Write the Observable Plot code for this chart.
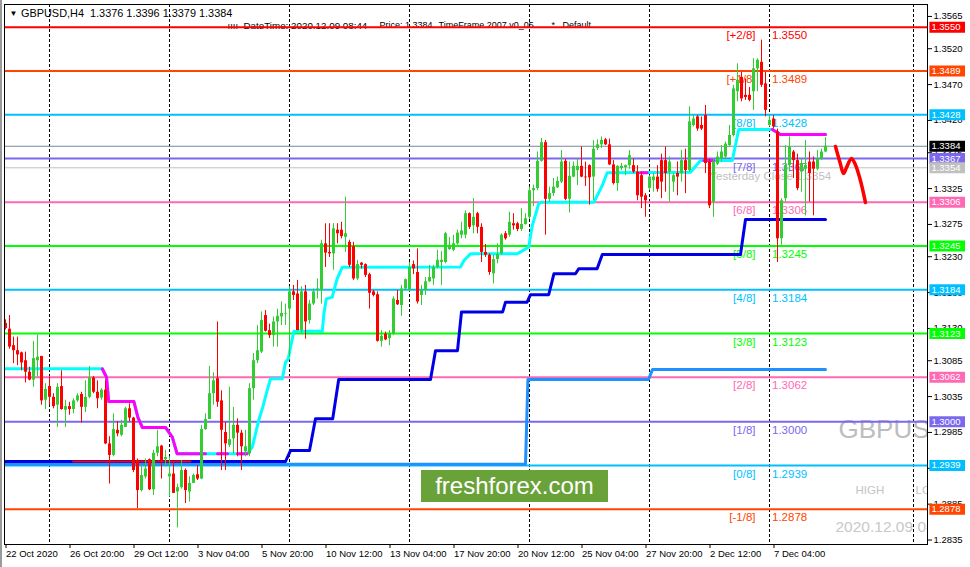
<!DOCTYPE html>
<html><head><meta charset="utf-8">
<script src="https://cdn.jsdelivr.net/npm/d3@7"></script>
<script src="https://cdn.jsdelivr.net/npm/@observablehq/plot@0.6"></script>
<style>
html,body{margin:0;padding:0;background:#fff;width:970px;height:567px;overflow:hidden;}
#wrap{position:relative;width:970px;height:567px;}
#wrap svg{position:absolute;left:0;top:0;}
#wm{position:absolute;left:421px;top:470px;width:187px;height:32px;background:#6aa23a;color:#fff;font:24px "Liberation Sans",Arial,sans-serif;text-align:center;line-height:32px;}
#lb{position:absolute;left:0;top:0;width:2px;height:567px;background:#9a9a9a;}
</style></head><body><div id="wrap"><div id="lb"></div></div>
<script>
// ---- candle data (H4 GBPUSD, bar index 0 = 22 Oct 2020 00:00) ----
const open = [1.3137,1.3129,1.3106,1.3099,1.3096,1.3085,1.3069,1.3058,1.3085,1.3091,1.3030,1.3049,1.3034,1.3023,1.3049,1.3016,1.3021,1.3017,1.3029,1.3038,1.3020,1.3034,1.3061,1.3041,1.3033,1.3044,1.2969,1.2953,1.2988,1.2981,1.2992,1.3018,1.3005,1.2946,1.2904,1.2923,1.2947,1.2905,1.2956,1.2966,1.2947,1.2923,1.2927,1.2902,1.2908,1.2932,1.2902,1.2914,1.2926,1.2920,1.2989,1.3003,1.3039,1.3060,1.3029,1.2985,1.2967,1.2976,1.2995,1.2984,1.2958,1.2955,1.3046,1.3085,1.3097,1.3148,1.3127,1.3120,1.3139,1.3146,1.3150,1.3157,1.3181,1.3178,1.3127,1.3181,1.3141,1.3164,1.3183,1.3183,1.3248,1.3236,1.3234,1.3267,1.3267,1.3257,1.3250,1.3244,1.3199,1.3221,1.3219,1.3205,1.3181,1.3177,1.3112,1.3122,1.3116,1.3122,1.3169,1.3162,1.3185,1.3183,1.3219,1.3208,1.3176,1.3183,1.3195,1.3199,1.3215,1.3222,1.3222,1.3240,1.3239,1.3248,1.3260,1.3260,1.3290,1.3273,1.3290,1.3271,1.3236,1.3232,1.3206,1.3226,1.3234,1.3262,1.3260,1.3276,1.3276,1.3268,1.3275,1.3285,1.3322,1.3325,1.3363,1.3389,1.3310,1.3318,1.3326,1.3334,1.3363,1.3310,1.3341,1.3350,1.3356,1.3341,1.3357,1.3341,1.3381,1.3386,1.3393,1.3386,1.3358,1.3332,1.3353,1.3354,1.3357,1.3357,1.3348,1.3343,1.3315,1.3325,1.3336,1.3341,1.3364,1.3364,1.3348,1.3334,1.3346,1.3346,1.3364,1.3350,1.3413,1.3425,1.3413,1.3427,1.3362,1.3306,1.3359,1.3366,1.3369,1.3385,1.3399,1.3460,1.3480,1.3455,1.3455,1.3460,1.3492,1.3501,1.3471,1.3413,1.3422,1.3404,1.3255,1.3311,1.3357,1.3376,1.3364,1.3348,1.3352,1.3362,1.3362,1.3352,1.3366,1.3376];
const high = [1.3142,1.3148,1.3118,1.3118,1.3097,1.3097,1.3076,1.3112,1.3121,1.3091,1.3053,1.3062,1.3039,1.3053,1.3071,1.3030,1.3027,1.3032,1.3039,1.3041,1.3057,1.3077,1.3063,1.3057,1.3046,1.3057,1.2979,1.3011,1.3000,1.3002,1.3020,1.3025,1.3006,1.2948,1.2939,1.2948,1.2948,1.2960,1.2988,1.2967,1.2960,1.2951,1.2944,1.2913,1.2946,1.2934,1.2923,1.2927,1.2939,1.2995,1.3011,1.3077,1.3068,1.3139,1.3043,1.2999,1.3048,1.3020,1.3004,1.2988,1.2988,1.3053,1.3095,1.3134,1.3153,1.3155,1.3136,1.3146,1.3157,1.3167,1.3164,1.3188,1.3190,1.3197,1.3188,1.3190,1.3169,1.3185,1.3199,1.3253,1.3276,1.3276,1.3276,1.3276,1.3278,1.3313,1.3253,1.3250,1.3225,1.3222,1.3220,1.3207,1.3183,1.3181,1.3127,1.3125,1.3127,1.3174,1.3183,1.3190,1.3199,1.3222,1.3224,1.3241,1.3190,1.3201,1.3218,1.3218,1.3239,1.3237,1.3264,1.3257,1.3260,1.3267,1.3278,1.3294,1.3291,1.3311,1.3292,1.3276,1.3247,1.3234,1.3232,1.3248,1.3262,1.3265,1.3292,1.3290,1.3278,1.3297,1.3290,1.3327,1.3330,1.3376,1.3395,1.3392,1.3327,1.3339,1.3341,1.3378,1.3366,1.3362,1.3362,1.3366,1.3383,1.3362,1.3358,1.3392,1.3393,1.3397,1.3395,1.3394,1.3364,1.3357,1.3360,1.3358,1.3378,1.3366,1.3357,1.3348,1.3318,1.3343,1.3346,1.3357,1.3373,1.3383,1.3369,1.3346,1.3362,1.3378,1.3380,1.3439,1.3427,1.3427,1.3425,1.3441,1.3366,1.3366,1.3376,1.3385,1.3390,1.3413,1.3469,1.3499,1.3487,1.3478,1.3466,1.3506,1.3506,1.3532,1.3487,1.3427,1.3427,1.3408,1.3311,1.3385,1.3397,1.3378,1.3373,1.3366,1.3392,1.3376,1.3369,1.3378,1.3380,1.3396];
const low = [1.3128,1.3101,1.3081,1.3078,1.3071,1.3054,1.3057,1.3048,1.3062,1.3023,1.3017,1.3023,1.3018,1.2992,1.3016,1.2992,1.3009,1.3011,1.3027,1.2998,1.3013,1.3032,1.3039,1.3018,1.3030,1.2968,1.2913,1.2951,1.2979,1.2979,1.2992,1.3000,1.2929,1.2879,1.2902,1.2920,1.2904,1.2897,1.2951,1.2920,1.2937,1.2895,1.2900,1.2852,1.2906,1.2886,1.2888,1.2914,1.2918,1.2919,1.2988,1.3003,1.3023,1.3020,1.2932,1.2932,1.2964,1.2955,1.2951,1.2932,1.2951,1.2951,1.3030,1.3081,1.3095,1.3125,1.3116,1.3104,1.3104,1.3134,1.3134,1.3090,1.3169,1.3127,1.3122,1.3115,1.3136,1.3162,1.3171,1.3164,1.3215,1.3229,1.3211,1.3248,1.3255,1.3236,1.3215,1.3197,1.3197,1.3213,1.3201,1.3157,1.3174,1.3111,1.3104,1.3113,1.3106,1.3120,1.3162,1.3147,1.3183,1.3181,1.3205,1.3164,1.3162,1.3176,1.3194,1.3190,1.3213,1.3190,1.3220,1.3239,1.3237,1.3246,1.3255,1.3255,1.3268,1.3262,1.3262,1.3222,1.3229,1.3204,1.3192,1.3220,1.3232,1.3253,1.3257,1.3267,1.3265,1.3265,1.3274,1.3282,1.3300,1.3322,1.3362,1.3260,1.3306,1.3314,1.3325,1.3332,1.3308,1.3291,1.3340,1.3329,1.3340,1.3328,1.3302,1.3308,1.3378,1.3381,1.3385,1.3357,1.3330,1.3321,1.3350,1.3343,1.3352,1.3346,1.3308,1.3297,1.3285,1.3322,1.3320,1.3320,1.3311,1.3320,1.3306,1.3320,1.3315,1.3334,1.3318,1.3348,1.3411,1.3405,1.3406,1.3346,1.3297,1.3285,1.3357,1.3362,1.3366,1.3383,1.3397,1.3446,1.3446,1.3448,1.3446,1.3434,1.3460,1.3466,1.3425,1.3411,1.3408,1.3222,1.3246,1.3306,1.3348,1.3339,1.3322,1.3320,1.3287,1.3306,1.3287,1.3350,1.3364,1.3375];
const close = [1.3130,1.3104,1.3099,1.3093,1.3082,1.3069,1.3058,1.3088,1.3090,1.3029,1.3045,1.3034,1.3021,1.3048,1.3017,1.3021,1.3017,1.3029,1.3036,1.3020,1.3034,1.3061,1.3041,1.3032,1.3044,1.2969,1.2953,1.2989,1.2983,1.2995,1.3018,1.3005,1.2932,1.2904,1.2925,1.2934,1.2905,1.2956,1.2965,1.2946,1.2950,1.2927,1.2900,1.2908,1.2932,1.2904,1.2914,1.2925,1.2920,1.2989,1.3003,1.3039,1.3057,1.3027,1.2988,1.2969,1.2975,1.2995,1.2984,1.2965,1.2965,1.3046,1.3085,1.3099,1.3141,1.3126,1.3120,1.3139,1.3147,1.3151,1.3151,1.3181,1.3176,1.3127,1.3181,1.3139,1.3164,1.3181,1.3185,1.3248,1.3235,1.3234,1.3269,1.3262,1.3258,1.3262,1.3218,1.3199,1.3219,1.3218,1.3204,1.3179,1.3176,1.3112,1.3119,1.3114,1.3123,1.3171,1.3163,1.3185,1.3198,1.3215,1.3213,1.3167,1.3183,1.3195,1.3201,1.3215,1.3225,1.3225,1.3262,1.3246,1.3248,1.3263,1.3266,1.3290,1.3271,1.3285,1.3271,1.3236,1.3232,1.3208,1.3226,1.3233,1.3260,1.3255,1.3278,1.3273,1.3268,1.3275,1.3283,1.3322,1.3325,1.3363,1.3389,1.3310,1.3318,1.3327,1.3335,1.3362,1.3310,1.3342,1.3356,1.3356,1.3341,1.3340,1.3340,1.3380,1.3386,1.3392,1.3386,1.3358,1.3332,1.3356,1.3356,1.3357,1.3371,1.3348,1.3315,1.3313,1.3308,1.3341,1.3341,1.3324,1.3334,1.3346,1.3362,1.3343,1.3341,1.3364,1.3350,1.3418,1.3422,1.3408,1.3408,1.3360,1.3301,1.3362,1.3369,1.3376,1.3387,1.3399,1.3464,1.3476,1.3450,1.3452,1.3448,1.3492,1.3504,1.3469,1.3434,1.3420,1.3411,1.3255,1.3308,1.3357,1.3383,1.3364,1.3325,1.3360,1.3357,1.3346,1.3352,1.3366,1.3376,1.3384];

// ---- axes ----
const xTickBars = [0,16,32,48,64,80,96,112,128,144,160,176,192];
const xTickLabels = ["22 Oct 2020","26 Oct 20:00","29 Oct 12:00","3 Nov 04:00","5 Nov 20:00","10 Nov 12:00","13 Nov 04:00","17 Nov 20:00","20 Nov 12:00","25 Nov 04:00","27 Nov 20:00","2 Dec 12:00","7 Dec 04:00"];
const yTicks = [1.3565,1.3520,1.3470,1.3420,1.3375,1.3325,1.3275,1.3230,1.3180,1.3130,1.3085,1.3035,1.2985,1.2935,1.2885,1.2835];
const sepBars = [11,41,71,101,131,161,191,227];

// ---- Murrey Math levels ----
const mmNames  = ["[+2/8]","[+1/8]","[8/8]","[7/8]","[6/8]","[5/8]","[4/8]","[3/8]","[2/8]","[1/8]","[0/8]","[-1/8]"];
const mmLevels = [1.3550,1.3489,1.3428,1.3367,1.3306,1.3245,1.3184,1.3123,1.3062,1.3000,1.2939,1.2878];
const bidPrice = 1.3384;
const yesterdayClose = 1.3354;
const labelBar = 191;

// ---- indicator lines (vertices: bar index, price) ----
const trendBars = [0,24.2,25.25,25.8,32.1,33.1,34.2,40,41.7,42.9,60.4,61.7,62.5,63.3,64.3,65.2,66.25,69.2,70,70.7,71.25,72.1,79.2,79.6,80.2,81.7,82.1,82.9,84.2,113.75,114.6,116.25,127.9,130.8,131.7,133.3,134,147.1,149.2,150.4,171.25,173.75,181.7,183.3,191.7,193.75,205];
const trendVals = [1.30738,1.30738,1.30620,1.30280,1.30280,1.30060,1.29920,1.29920,1.29785,1.29553,1.29552,1.29645,1.29830,1.30020,1.30200,1.30390,1.30597,1.30597,1.30830,1.30876,1.31040,1.31260,1.31260,1.31504,1.31713,1.31736,1.31829,1.31990,1.32154,1.32155,1.32248,1.32340,1.32340,1.32433,1.32736,1.33038,1.33060,1.33060,1.33294,1.33470,1.33479,1.33642,1.33642,1.34074,1.34074,1.34004,1.34004];
const magSeg  = [0,0,0,0,0,0,0,0,0,0,0, 1,1, 2,2, 3,3, 4,4, 5,5,5];
const magBars = [24.2,25.25,25.8,32.1,33.1,34.2,40,41.7,42.9,50,50, 53,55.5, 58,60.4, 158.75,160.4, 174.6,177.1, 191.7,193.75,205];
const magVals = [1.30738,1.30620,1.30280,1.30280,1.30060,1.29920,1.29920,1.29785,1.29553,1.29553,1.29553, 1.29552,1.29552, 1.29552,1.29552, 1.33470,1.33470, 1.33642,1.33642, 1.34074,1.34004,1.34004];
const blueBars = [0,70,71.25,76,77.5,81.8,83.3,106.25,107.5,113,114,124.3,125,130.4,131.25,135.8,137.1,142.5,143.3,147.9,149.2,183.75,185,205];
const blueVals = [1.29445,1.29445,1.29598,1.29598,1.30040,1.30040,1.30588,1.30588,1.30990,1.30990,1.31530,1.31530,1.31666,1.31666,1.31770,1.31770,1.32062,1.32062,1.32132,1.32132,1.32330,1.32330,1.32820,1.32820];
const dodgerBars = [0,130,130.6,160.75,161.75,205];
const dodgerVals = [1.29408,1.29408,1.30588,1.30588,1.30728,1.30728];
const redSegBars = [16.9,46.25];
const redSegVals = [1.29445,1.29445];
const fcBars = [207.5,208.7,209.5,210.3,211.5,212.5,213.7,215];
const fcVals = [1.33837,1.33600,1.33460,1.33550,1.33670,1.33580,1.33370,1.33055];

// ---- styles ----
const GREEN = "#32cd32", RED = "#ff0000";
const mmColors = ["#ff0000","#ff4500","#00bfff","#7b68ee","#ff69b4","#00ff00","#00bfff","#00ff00","#ff69b4","#7b68ee","#00bfff","#ff4500"];
const FONT = "'Liberation Sans', Arial, sans-serif";

const candles = open.map((o, i) => ({i, o, h: high[i], l: low[i], c: close[i], col: close[i] >= o ? GREEN : RED}));
const mm = mmLevels.map((v, k) => ({v, name: mmNames[k], col: mmColors[k]}));
const pts = (bs, vs, extra) => bs.map((b, k) => ({b, v: vs[k], s: extra ? extra[k] : 0}));
const boxes = [
  ...mm.map(d => ({v: d.v, col: d.col})),
  {v: bidPrice, col: "#000000"},
  {v: yesterdayClose, col: "#c0c0c0"}
].sort((a, b) => b.v - a.v);

const label = (txt, dx, dy, size, fill, extra = {}) =>
  Plot.text([txt], {frameAnchor: "top-left", dx, dy, text: d => d, fontSize: size, fill, textAnchor: "start", lineAnchor: "middle", ...extra});

const plot = Plot.plot({
  width: 970, height: 567,
  marginLeft: 4, marginRight: 43, marginTop: 4, marginBottom: 23,
  style: {fontFamily: FONT, background: "transparent", overflow: "visible"},
  x: {domain: [-0.25, 230.5], axis: null},
  y: {domain: [1.282878, 1.358165], axis: null},
  color: {type: "identity"},
  marks: [
    // background watermark texts
    label("GBPUSD", 834, 425, 26, "#bdbdbd", {clip: true}),
    label("HIGH", 851, 486, 11.5, "#c4c4c4", {clip: true}),
    label("LOW", 911, 486, 11.5, "#c4c4c4", {clip: true}),
    label("2020.12.09 08:44", 831, 523, 15.5, "#c8c8c8", {clip: true}),
    // header
    label("\u25BC", 5, 9, 8, "#000"),
    label("GBPUSD,H4  1.3376 1.3396 1.3379 1.3384", 16.5, 9, 10.9, "#000", {style: {whiteSpace: "pre"}}),
    label("ıııı", 223, 21, 9.5, "#000"),
    label("DateTime: 2020.12.09 08:44", 239, 21, 9.8, "#000"),
    label("Price: 1.3384", 375, 21, 9, "#000"),
    label("TimeFrame 2007 v0_05", 434, 21, 9, "#000"),
    label("*", 547, 21, 9, "#000"),
    label("Default", 558, 21, 9, "#000"),
    // period separators
    Plot.ruleX(sepBars, {stroke: "#000", strokeWidth: 1, strokeDasharray: "3,2"}),
    // Murrey math lines
    Plot.ruleY(mm, {y: "v", stroke: "col", strokeWidth: 2}),
    Plot.ruleY([bidPrice], {stroke: "#778899", strokeWidth: 1}),
    Plot.ruleY([yesterdayClose], {stroke: "#c0c0c0", strokeWidth: 1}),
    Plot.text(mm, {x: labelBar, y: "v", text: "name", fill: "col", fontSize: 11.5, textAnchor: "end", dx: -14, dy: 8.5}),
    Plot.text(mm, {x: labelBar, y: "v", text: d => d.v.toFixed(4), fill: "col", fontSize: 11.5, textAnchor: "start", dx: 2.5, dy: 8.5}),
    Plot.text([yesterdayClose], {x: 176, y: d => d, text: d => "Yesterday Close " + d.toFixed(4), fill: "#c0c0c0", fontSize: 11.5, textAnchor: "start", dy: 9}),
    // indicator lines
    Plot.line(pts(dodgerBars, dodgerVals), {x: "b", y: "v", stroke: "#1e90ff", strokeWidth: 3}),
    Plot.line(pts(blueBars, blueVals), {x: "b", y: "v", stroke: "#0000e6", strokeWidth: 3}),
    Plot.line(pts(redSegBars, redSegVals), {x: "b", y: "v", stroke: "#ff0000", strokeWidth: 2}),
    Plot.line(pts(trendBars, trendVals), {x: "b", y: "v", stroke: "#00ffff", strokeWidth: 3}),
    Plot.line(pts(magBars, magVals, magSeg), {x: "b", y: "v", z: "s", stroke: "#ff00ff", strokeWidth: 3}),
    Plot.line(pts(fcBars, fcVals), {x: "b", y: "v", stroke: "#ff0000", strokeWidth: 3.5, curve: "catmull-rom"}),
    // candles
    Plot.ruleX(candles, {x: "i", y1: "l", y2: "h", stroke: "col", strokeWidth: 1}),
    Plot.ruleX(candles, {x: "i", y1: "o", y2: "c", stroke: "col", strokeWidth: 3}),
    // frame & axes
    Plot.frame({stroke: "#000"}),
    Plot.axisY(yTicks, {anchor: "right", tickSize: 4, tickPadding: 2, tickFormat: d => d.toFixed(4), fontSize: 9.5, fill: "#000", stroke: "#000"}),
    Plot.ruleY(boxes, {y: "v", x1: 231.1, x2: 240, stroke: "col", strokeWidth: 11}),
    Plot.text(boxes, {y: "v", x: 231.1, dx: 1.5, text: d => d.v.toFixed(4), fill: "#fff", fontSize: 9.5, textAnchor: "start"}),
    Plot.axisX(xTickBars, {anchor: "bottom", tickSize: 4, tickPadding: 2, tickFormat: d => xTickLabels[xTickBars.indexOf(d)], textAnchor: "start", dx: 0.5, fontSize: 9.5, fill: "#000", stroke: "#000"})
  ]
});
const wrap = document.getElementById("wrap");
wrap.appendChild(plot);
const wm = document.createElement("div");
wm.id = "wm"; wm.textContent = "freshforex.com";
wrap.appendChild(wm);
</script></body></html>
